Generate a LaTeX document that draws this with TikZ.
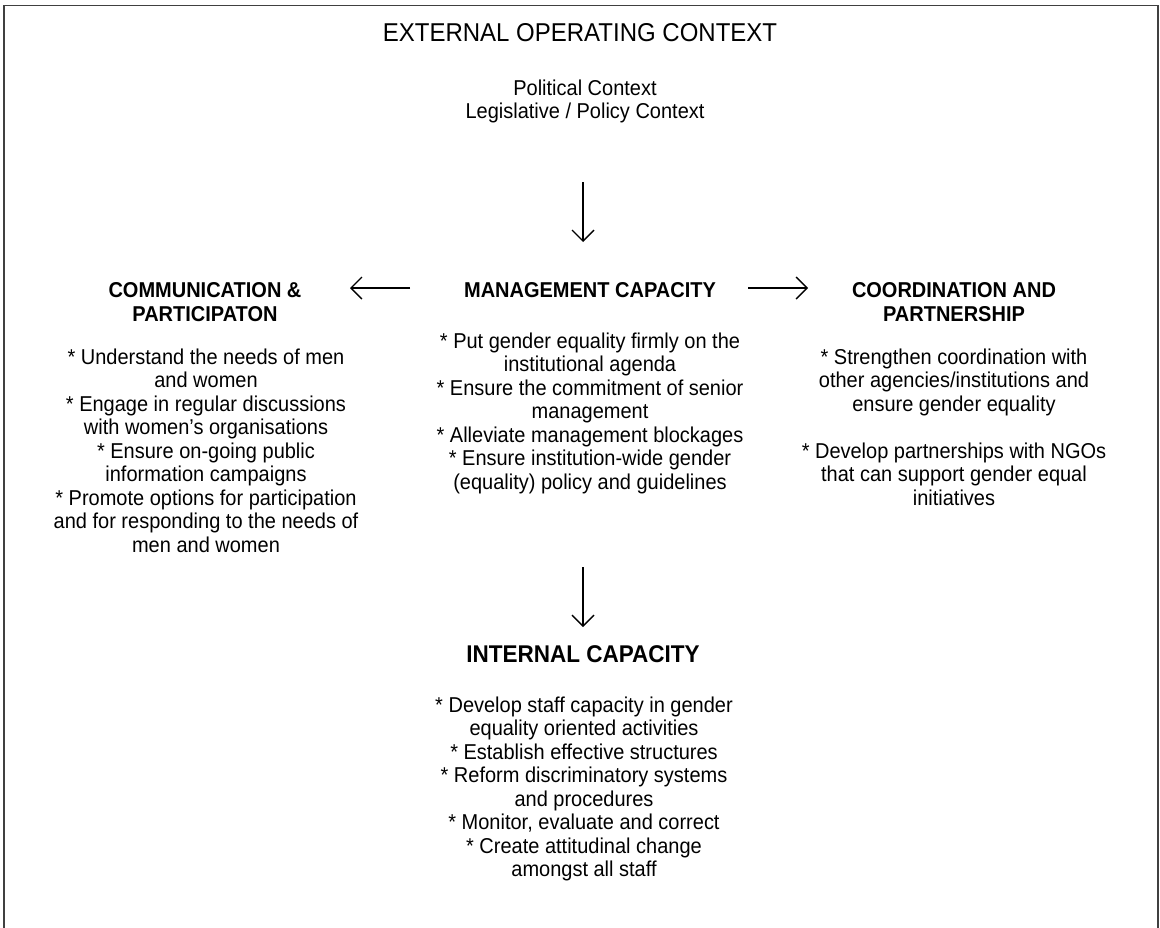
\documentclass[tikz,border=0pt]{standalone}
\usepackage{fontspec}
\setmainfont[FakeStretch=0.93]{Liberation Sans}
\usetikzlibrary{arrows.meta}
\begin{document}
\begin{tikzpicture}[x=1pt,y=-1pt,
  body/.style={inner sep=0pt, align=center, font=\fontsize{21.5}{23.5}\selectfont},
  head/.style={inner sep=0pt, align=center, font=\fontsize{21.5}{24}\selectfont\bfseries},
  flow/.style={line width=1.4pt, -{Straight Barb[length=11pt,width=22pt,line width=1.4pt]}}]
\useasboundingbox (0,0) rectangle (1160,927);
\draw[line width=1.6pt, black!75] (4,935) -- (4,5.5) -- (1158,5.5) -- (1158,935);

\node[inner sep=0pt, anchor=base, font=\fontsize{25.8}{28}\selectfont] (ext) at (580,41) {EXTERNAL OPERATING CONTEXT};
\node[body, anchor=north] (ctx) at (585,95-16.45) {\strut Political Context\\Legislative / Policy Context};

\node[head, anchor=base] (mgmt) at (590,297) {MANAGEMENT CAPACITY};
\node[body, anchor=north] (mgmtb) at (590,348-16.45) {\strut * Put gender equality firmly on the\\institutional agenda\\* Ensure the commitment of senior\\management\\* Alleviate management blockages\\* Ensure institution-wide gender\\(equality) policy and guidelines};

\node[head, anchor=north] (comm) at (205,297-16.8) {\strut COMMUNICATION \&\\PARTICIPATON};
\node[body, anchor=north] (commb) at (206,364-16.45) {\strut * Understand the needs of men\\and women\\* Engage in regular discussions\\with women’s organisations\\* Ensure on-going public\\information campaigns\\* Promote options for participation\\and for responding to the needs of\\men and women};

\node[head, anchor=north] (coord) at (954,297-16.8) {\strut COORDINATION AND\\PARTNERSHIP};
\node[body, anchor=north] (coordb) at (954,364-16.45) {\strut * Strengthen coordination with\\other agencies/institutions and\\ensure gender equality\\[23.5pt]* Develop partnerships with NGOs\\that can support gender equal\\initiatives};

\node[inner sep=0pt, anchor=base, font=\fontsize{24.2}{26}\selectfont\bfseries] (int) at (583,662) {INTERNAL CAPACITY};
\node[body, anchor=north] (intb) at (584,712-16.45) {\strut * Develop staff capacity in gender\\equality oriented activities\\* Establish effective structures\\* Reform discriminatory systems\\and procedures\\* Monitor, evaluate and correct\\* Create attitudinal change\\amongst all staff};

\coordinate (a1s) at (583,182);
\coordinate (a1e) at (583,242);
\draw[flow] (a1s) -- (a1e);
\coordinate (a2s) at (583,567);
\coordinate (a2e) at (583,627);
\draw[flow] (a2s) -- (a2e);
\coordinate (l1s) at (410,288);
\coordinate (l1e) at (350,288);
\draw[flow] (l1s) -- (l1e);
\coordinate (r1s) at (748,288);
\coordinate (r1e) at (808,288);
\draw[flow] (r1s) -- (r1e);
\end{tikzpicture}
\end{document}
